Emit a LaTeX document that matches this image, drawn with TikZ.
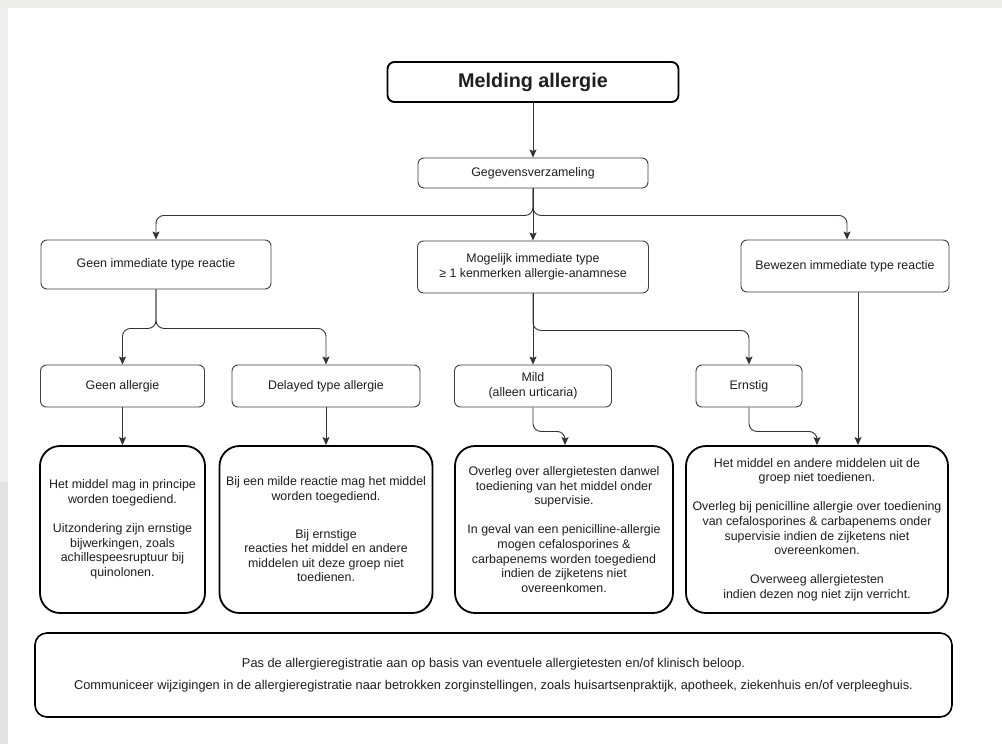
\documentclass[tikz,border=0pt]{standalone}
\usepackage{fontspec}
\setmainfont{Liberation Sans}
\usetikzlibrary{arrows.meta}

\definecolor{framegray}{HTML}{ECECEA}
\definecolor{sidegray}{HTML}{EFEFEF}
\definecolor{sidegraydark}{HTML}{E3E3E3}
\definecolor{inkgray}{HTML}{1E1E1E}

\begin{document}
\begin{tikzpicture}[x=1pt,y=-1pt,
  txt/.style={font=\fontsize{12.4}{14.6}\selectfont, align=center, text=inkgray},
  thinbox/.style={txt, draw=black!75, line width=0.9pt, rounded corners=6pt, inner sep=0pt},
  thickbox/.style={txt, draw=black, line width=1.8pt, rounded corners=20pt, inner sep=0pt},
  link/.style={draw=black!80, line width=0.9pt, rounded corners=8pt,
               -{Stealth[length=8pt,width=7pt,inset=1.5pt]}},
]

% page and frame
\useasboundingbox (0,0) rectangle (1002,744);
\fill[white] (0,0) rectangle (1002,744);
\fill[framegray] (0,0) rectangle (1002,8);
\fill[sidegray] (0,8) rectangle (8,482);
\fill[sidegraydark] (0,482) rectangle (8,744);

% title
\node[txt, draw=black, line width=1.9pt, rounded corners=7pt, inner sep=0pt,
      minimum width=291pt, minimum height=40pt,
      font=\fontsize{19.8}{24}\selectfont\bfseries] (meld) at (533,82) {Melding allergie};

% first level
\node[thinbox, minimum width=230pt, minimum height=30pt] (gegev) at (533,173) {Gegevensverzameling};

\node[thinbox, minimum width=230pt, minimum height=49pt] (geenimm) at (156,264.5) {Geen immediate type reactie};
\node[thinbox, minimum width=231pt, minimum height=52pt] (mogelijk) at (533,267)
  {Mogelijk immediate type\\≥ 1 kenmerken allergie-anamnese};
\node[thinbox, minimum width=208pt, minimum height=52pt] (bewezen) at (845,266) {Bewezen immediate type reactie};

% second level
\node[thinbox, minimum width=164pt, minimum height=42pt] (geenall) at (122.5,386) {Geen allergie};
\node[thinbox, minimum width=188pt, minimum height=42pt] (delayed) at (326,386) {Delayed type allergie};
\node[thinbox, minimum width=157pt, minimum height=42pt] (mild) at (533,386) {Mild\\(alleen urticaria)};
\node[thinbox, minimum width=106pt, minimum height=42pt] (ernstig) at (749,386) {Ernstig};

% advice boxes
\node[thickbox, minimum width=165pt, minimum height=167pt] (box1) at (122.5,529.5)
  {Het middel mag in principe\\worden toegediend.\\[14.6pt]Uitzondering zijn ernstige\\bijwerkingen, zoals\\achillespeesruptuur bij\\quinolonen.};
\node[thickbox, minimum width=213pt, minimum height=167pt] (box2) at (326,529.5)
  {Bij een milde reactie mag het middel\\worden toegediend.\\[23pt]Bij ernstige\\reacties het middel en andere\\middelen uit deze groep niet\\toedienen.};
\node[thickbox, minimum width=218pt, minimum height=167pt] (box3) at (564,529.5)
  {Overleg over allergietesten danwel\\toediening van het middel onder\\supervisie.\\[14.6pt]In geval van een penicilline-allergie\\mogen cefalosporines \&\\carbapenems worden toegediend\\indien de zijketens niet\\overeenkomen.};
\node[thickbox, minimum width=262pt, minimum height=167pt] (box4) at (817,529.5)
  {Het middel en andere middelen uit de\\groep niet toedienen.\\[14.6pt]Overleg bij penicilline allergie over toediening\\van cefalosporines \& carbapenems onder\\supervisie indien de zijketens niet\\overeenkomen.\\[14.6pt]Overweeg allergietesten\\indien dezen nog niet zijn verricht.};

% closing note
\node[thickbox, line width=1.6pt, rounded corners=12pt, minimum width=917pt, minimum height=84pt,
      font=\fontsize{12.8}{15}\selectfont] (note) at (493.5,675)
  {Pas de allergieregistratie aan op basis van eventuele allergietesten en/of klinisch beloop.\\[7pt]Communiceer wijzigingen in de allergieregistratie naar betrokken zorginstellingen, zoals huisartsenpraktijk, apotheek, ziekenhuis en/of verpleeghuis.};

% connectors
\draw[link] (meld) -- (gegev);
\draw[link] (gegev.south) -- ++(0,27) -| (geenimm.north);
\draw[link] (gegev) -- (mogelijk);
\draw[link] (gegev.south) -- ++(0,27) -| ([xshift=2pt]bewezen.north);

\draw[link] (geenimm.south) -- ++(0,39) -| (geenall.north);
\draw[link] (geenimm.south) -- ++(0,39) -| (delayed.north);
\draw[link] (mogelijk) -- (mild);
\draw[link] (mogelijk.south) -- ++(0,37) -| (ernstig.north);

\draw[link] (geenall) -- (box1);
\draw[link] (delayed) -- (box2);
\draw[link] (mild.south) -- ++(0,24) -| ([xshift=1pt]box3.north);
\draw[link] (ernstig.south) -- ++(0,24) -| (box4.north);
\draw[link] ([xshift=13pt]bewezen.south) -- ([xshift=41pt]box4.north);

\end{tikzpicture}
\end{document}
